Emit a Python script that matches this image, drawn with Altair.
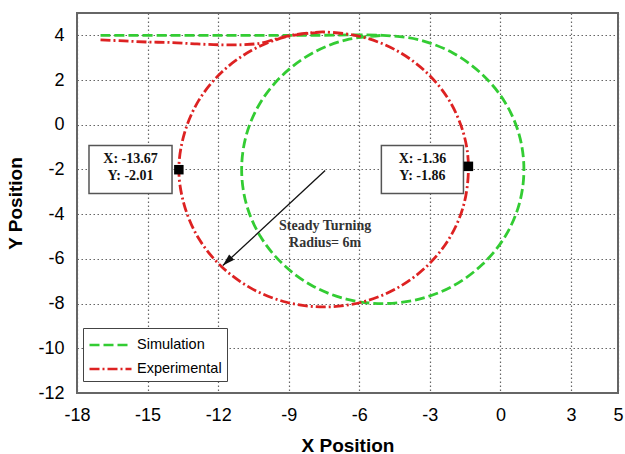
import altair as alt
import pandas as pd

# ---- data ----
sim_x = [-17.0, -14.0, -11.0, -8.0, -5.0, -3.45, -2.0, -0.76, 0.20, 0.80, 1.0, 0.80, 0.20, -0.76,
         -2.0, -3.45, -5.0, -6.55, -8.0, -9.24, -10.20, -10.80, -11.0, -10.80, -10.20, -9.24,
         -8.0, -6.55, -5.0]
sim_y = [4.0, 4.0, 4.0, 4.0, 4.0, 3.80, 3.20, 2.24, 1.0, -0.45, -2.0, -3.55, -5.0, -6.24,
         -7.20, -7.80, -8.0, -7.80, -7.20, -6.24, -5.0, -3.55, -2.0, -0.45, 1.0, 2.24,
         3.20, 3.80, 4.0]

exp_x = [-17.0, -16.0, -15.0, -14.0, -13.0, -12.0, -11.0, -10.2, -9.5, -8.8, -8.0, -7.5,
         -5.91, -4.43, -3.15, -2.17, -1.56, -1.36, -1.56, -2.17, -3.15, -4.43, -5.91, -7.5,
         -9.09, -10.57, -11.85, -12.83, -13.44, -13.67, -13.44, -12.83, -11.85, -10.57,
         -9.09, -7.5]
exp_y = [3.80, 3.75, 3.70, 3.68, 3.62, 3.58, 3.58, 3.65, 3.85, 4.02, 4.12, 4.15,
         3.94, 3.33, 2.35, 1.08, -0.41, -1.86, -3.59, -5.08, -6.35, -7.33, -7.94, -8.15,
         -7.94, -7.33, -6.35, -5.08, -3.59, -2.01, -0.41, 1.08, 2.35, 3.33,
         3.94, 4.15]

series_names = ["Simulation", "Experimental"]
series_colors = ["#33cc33", "#dd2222"]
series_dash = [[10, 4], [10, 3, 2, 3]]

x_ticks = [-18, -15, -12, -9, -6, -3, 0, 3, 5]
y_ticks = [-12, -10, -8, -6, -4, -2, 0, 2, 4]

marker_x = [-13.67, -1.36]
marker_y = [-2.01, -1.86]
box_x1 = [-17.49, -5.06]
box_x2 = [-13.96, -1.57]
box_y1 = [-0.93, -0.93]
box_y2 = [-3.07, -3.07]
box_line1 = ["X: -13.67", "X: -1.36"]
box_line2 = ["Y: -2.01", "Y: -1.86"]
box_text_y1 = [-1.51, -1.51]
box_text_y2 = [-2.31, -2.31]

arrow_start = (-7.45, -2.05)
arrow_end = (-11.8, -6.3)
arrow_label = ["Steady Turning", "Radius= 6m"]
arrow_label_x = -7.45
arrow_label_y = [-4.54, -5.27]

# ---- tables ----
rows = []
for i, (x, y) in enumerate(zip(sim_x, sim_y)):
    rows.append({"series": "Simulation", "order": i, "x": x, "y": y})
for i, (x, y) in enumerate(zip(exp_x, exp_y)):
    rows.append({"series": "Experimental", "order": i, "x": x, "y": y})
lines_df = pd.DataFrame(rows)

boxes_df = pd.DataFrame({"x1": box_x1, "x2": box_x2, "y1": box_y1, "y2": box_y2,
                         "cx": [(a + b) / 2 for a, b in zip(box_x1, box_x2)],
                         "t1": box_line1, "t2": box_line2,
                         "ty1": box_text_y1, "ty2": box_text_y2})
markers_df = pd.DataFrame({"x": marker_x, "y": marker_y})
arrow_df = pd.DataFrame({"x": [arrow_start[0]], "y": [arrow_start[1]],
                         "x2": [arrow_end[0]], "y2": [arrow_end[1]]})
head_df = pd.DataFrame({"x": [arrow_end[0]], "y": [arrow_end[1]]})
label_df = pd.DataFrame({"x": [arrow_label_x] * 2, "y": arrow_label_y, "t": arrow_label})

xs = alt.Scale(domain=[-18, 5], nice=False, zero=False)
ys = alt.Scale(domain=[-12, 5], nice=False, zero=False)

tickfont = "Liberation Sans, Arial, sans-serif"
titlefont = "Liberation Sans, Arial, sans-serif"
minus_fix = "replace(datum.label, '\u2212', '-')"

x_axis = alt.Axis(values=x_ticks, title="X Position", grid=True, gridDash=[1.5, 2.5],
                  gridColor="#666", gridWidth=1.2, domain=False, ticks=False,
                  labelExpr=minus_fix,
                  labelFont=tickfont, labelFontSize=18, labelColor="#000", labelPadding=13,
                  titleFont=titlefont, titleFontSize=19, titleFontWeight="bold",
                  titleColor="#000", titlePadding=12, labelFlush=False)
y_axis = alt.Axis(values=y_ticks, title="Y Position", grid=True, gridDash=[1.5, 2.5],
                  gridColor="#666", gridWidth=1.2, domain=False, ticks=False,
                  labelExpr=minus_fix,
                  labelFont=tickfont, labelFontSize=18, labelColor="#000", labelPadding=13,
                  titleFont=titlefont, titleFontSize=19, titleFontWeight="bold",
                  titleColor="#000", titlePadding=12, labelFlush=False)

lines = alt.Chart(lines_df).mark_line(strokeWidth=2.8, interpolate="catmull-rom").encode(
    x=alt.X("x:Q", scale=xs, axis=x_axis),
    y=alt.Y("y:Q", scale=ys, axis=y_axis),
    order="order:Q",
    color=alt.Color("series:N", scale=alt.Scale(domain=series_names, range=series_colors),
                    legend=alt.Legend(title=None, orient="none", legendX=6, legendY=315,
                                      strokeColor="#444", fillColor="white", padding=5,
                                      symbolType="M-1,0L3,0", symbolSize=441,
                                      symbolStrokeWidth=2.6, labelFont="Liberation Sans",
                                      labelFontSize=14.5, labelColor="#000", rowPadding=5,
                                      labelOffset=25)),
    strokeDash=alt.StrokeDash("series:N",
                              scale=alt.Scale(domain=series_names, range=series_dash),
                              legend=None),
)

boxes = alt.Chart(boxes_df).mark_rect(fill="white", stroke="#555", strokeWidth=1.5).encode(
    x="x1:Q", x2="x2:Q", y="y1:Q", y2="y2:Q")
serif = "Liberation Serif, Times New Roman, serif"
box_t1 = alt.Chart(boxes_df).mark_text(font=serif, fontSize=14, fontWeight="bold",
                                       color="#111", baseline="middle").encode(
    x="cx:Q", y="ty1:Q", text="t1:N")
box_t2 = alt.Chart(boxes_df).mark_text(font=serif, fontSize=14, fontWeight="bold",
                                       color="#111", baseline="middle").encode(
    x="cx:Q", y="ty2:Q", text="t2:N")
markers = alt.Chart(markers_df).mark_point(shape="square", filled=True, color="#000",
                                           size=90, opacity=1).encode(x="x:Q", y="y:Q")
arrow = alt.Chart(arrow_df).mark_rule(color="#111", strokeWidth=1.3).encode(
    x="x:Q", y="y:Q", x2="x2:Q", y2="y2:Q")
head = alt.Chart(head_df).mark_point(shape="M0,0L-0.6,2L0.6,2Z", filled=True, color="#111",
                                     size=150, opacity=1, angle=226).encode(x="x:Q", y="y:Q")
label = alt.Chart(label_df).mark_text(font=serif, fontSize=14, fontWeight="bold",
                                      color="#333", baseline="middle").encode(
    x="x:Q", y="y:Q", text="t:N")

chart = alt.layer(lines, boxes, box_t1, box_t2, markers, arrow, head, label).properties(
    width=541, height=380,
    autosize=alt.AutoSizeParams(type="none"),
    padding={"left": 77, "top": 13, "right": 7, "bottom": 61},
    background="white",
).configure_view(stroke="#666", strokeWidth=2)

chart.save("out.html", embed_options={"renderer": "svg", "actions": False})
